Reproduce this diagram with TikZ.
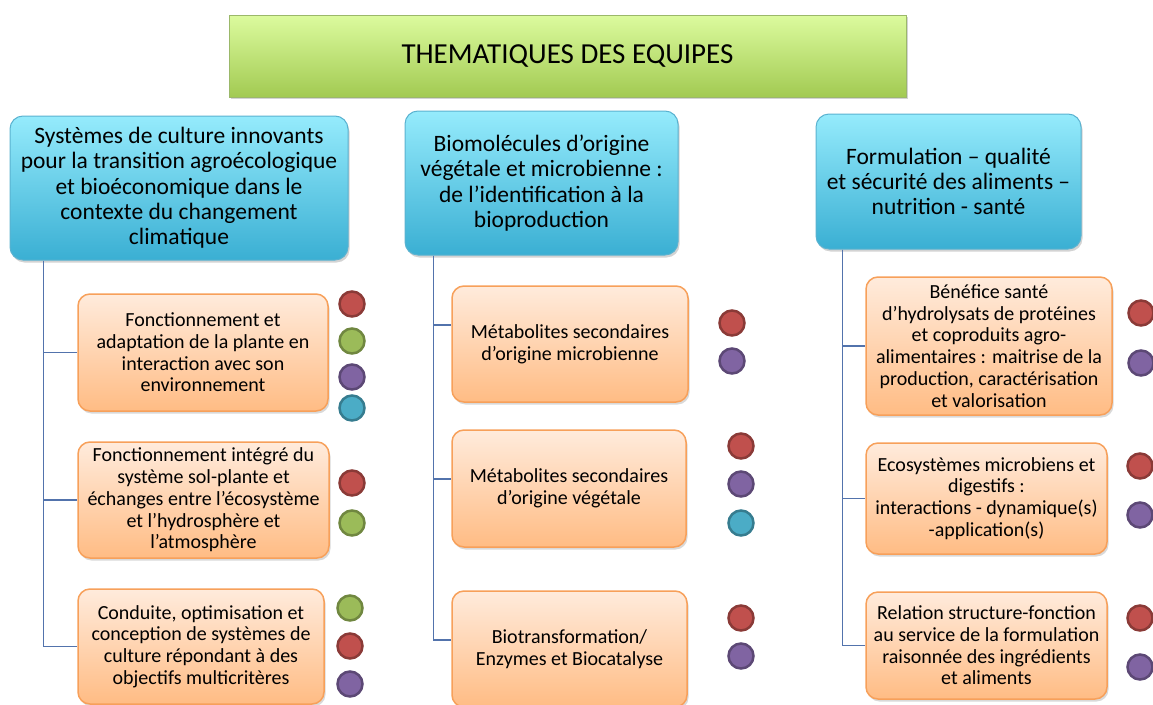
\documentclass[tikz,border=0pt]{standalone}
\usepackage{fontspec}
\setmainfont{Carlito}
\usetikzlibrary{shadows,positioning}
\definecolor{teamred}{HTML}{C0504D}
\definecolor{teamgreen}{HTML}{9BBB59}
\definecolor{teampurple}{HTML}{8064A2}
\definecolor{teamteal}{HTML}{4BACC6}
\definecolor{treeblue}{HTML}{5273AC}
\definecolor{themetop}{HTML}{95EBFC}
\definecolor{themebot}{HTML}{3AAFD3}
\definecolor{themeedge}{HTML}{5AB2D0}
\definecolor{topictop}{HTML}{FFEBDC}
\definecolor{topicbot}{HTML}{FFBC84}
\definecolor{topicedge}{HTML}{F7A05A}
\definecolor{titletop}{HTML}{DCFB9E}
\definecolor{titlebot}{HTML}{A2CA52}
\definecolor{titleedge}{HTML}{9BB86A}
\tikzset{
  bandeau/.style={rectangle, draw=titleedge, line width=1pt,
                  top color=titletop, bottom color=titlebot,
                  minimum width=677pt, minimum height=82pt, inner sep=0pt,
                  font=\fontsize{29}{34}\selectfont,
                  drop shadow={shadow xshift=1.5pt,shadow yshift=-2pt,opacity=0.35}},
  themebox/.style={rectangle, rounded corners=13pt, draw=themeedge, line width=1pt,
                   top color=themetop, bottom color=themebot,
                   align=center, inner sep=0pt, font=\fontsize{23.5}{25.3}\selectfont,
                   drop shadow={shadow xshift=1.5pt,shadow yshift=-2.5pt,opacity=0.35}},
  topicbox/.style={rectangle, rounded corners=12pt, draw=topicedge, line width=1.5pt,
                   top color=topictop, bottom color=topicbot,
                   align=center, inner sep=0pt, font=\fontsize{20}{21.7}\selectfont,
                   drop shadow={shadow xshift=1.5pt,shadow yshift=-2.5pt,opacity=0.3}},
  branch/.style={draw=treeblue, line width=1.4pt},
  teamdot/.style={circle, minimum size=25pt, inner sep=0pt, line width=2.5pt,
                  fill=#1, draw=#1!72!black}
}

\begin{document}
\begin{tikzpicture}[x=1pt,y=-1pt]
  \useasboundingbox (0,0) rectangle (1153,704);

  % Title band.
  \node[bandeau] (titre) at (567.5,56) {THEMATIQUES DES EQUIPES};

  % Team themes.
  \node[themebox, minimum width=338pt, minimum height=144pt] (theme1) at (179,188)
    {Systèmes de culture innovants\\pour la transition agroécologique\\et bioéconomique dans le\\contexte du changement\\climatique};
  \node[themebox, minimum width=273pt, minimum height=144pt] (theme2) at (541.5,183)
    {Biomolécules d’origine\\végétale et microbienne :\\de l’identification à la\\bioproduction};
  \node[themebox, minimum width=265pt, minimum height=135pt] (theme3) at (948.5,181.5)
    {Formulation – qualité\\et sécurité des aliments –\\nutrition - santé};

  % Topics of the first theme.
  \node[topicbox, minimum width=250pt, minimum height=117pt] (topic11) at (203,352.5)
    {Fonctionnement et\\adaptation de la plante en\\interaction avec son\\environnement};
  \node[topicbox, minimum width=251pt, minimum height=116pt] (topic12) at (203.5,500)
    {Fonctionnement intégré du\\système sol-plante et\\échanges entre l’écosystème\\et l’hydrosphère et\\l’atmosphère};
  \node[topicbox, minimum width=246pt, minimum height=115pt] (topic13) at (201,646.5)
    {Conduite, optimisation et\\conception de systèmes de\\culture répondant à des\\objectifs multicritères};

  % Topics of the second theme.
  \node[topicbox, minimum width=236pt, minimum height=116pt] (topic21) at (570,344)
    {Métabolites secondaires\\d’origine microbienne};
  \node[topicbox, minimum width=234pt, minimum height=117pt] (topic22) at (569,488.5)
    {Métabolites secondaires\\d’origine végétale};
  \node[topicbox, minimum width=235pt, minimum height=116pt] (topic23) at (569.5,649)
    {Biotransformation/\\Enzymes et Biocatalyse};

  % Topics of the third theme.
  \node[topicbox, minimum width=246pt, minimum height=138pt] (topic31) at (989,346)
    {Bénéfice santé\\d’hydrolysats de protéines\\et coproduits agro-\\alimentaires : maitrise de la\\production, caractérisation\\et valorisation};
  \node[topicbox, minimum width=241pt, minimum height=111pt] (topic32) at (986.5,498.5)
    {Ecosystèmes microbiens et\\digestifs :\\interactions - dynamique(s)\\-application(s)};
  \node[topicbox, minimum width=241pt, minimum height=107pt] (topic33) at (986.5,645.5)
    {Relation structure-fonction\\au service de la formulation\\raisonnée des ingrédients\\et aliments};

  % Tree branches.
  \foreach \t in {1,2,3}
    \draw[branch] ([xshift=34pt]theme1.south west) |- (topic1\t.west);
  \draw[branch] ([xshift=29pt]theme2.south west) |- ([yshift=19pt]topic21.west);
  \draw[branch] ([xshift=29pt]theme2.south west) |- ([yshift=9.5pt]topic22.west);
  \draw[branch] ([xshift=29pt]theme2.south west) |- ([yshift=9pt]topic23.west);
  \foreach \t in {1,2,3}
    \draw[branch] ([xshift=27pt]theme3.south west) |- (topic3\t.west);

  % Team dots.
  \foreach \x/\y/\c [count=\i] in {
      352/304/teamred, 352/341/teamgreen, 352/377/teampurple, 352/408/teamteal,
      352/483/teamred, 352/523/teamgreen,
      350/608/teamgreen, 350/646/teamred, 350/684/teampurple,
      732/323/teamred, 732/361/teampurple,
      741/446/teamred, 741/484/teampurple, 741/523/teamteal,
      741/618/teamred, 741/656/teampurple,
      1141/313/teamred, 1141/363/teampurple,
      1140/466/teamred, 1140/515/teampurple,
      1140/618/teamred, 1140/667/teampurple}
    \node[teamdot=\c] (dot\i) at (\x,\y) {};
\end{tikzpicture}
\end{document}
